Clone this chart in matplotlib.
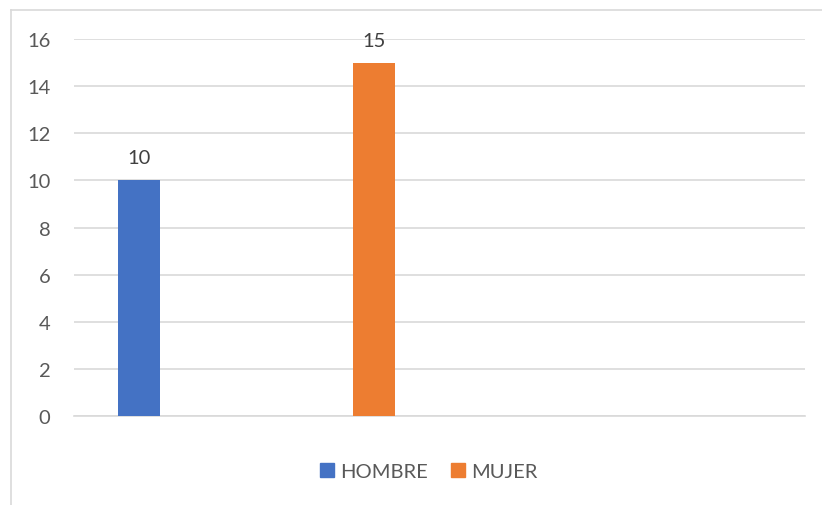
import matplotlib.pyplot as plt
from matplotlib.lines import Line2D

# Data
series = ['HOMBRE', 'MUJER']
values = [10, 15]
colors = ['#4472C4', '#ED7D31']
yticks = [0, 2, 4, 6, 8, 10, 12, 14, 16]

plt.rcParams['font.family'] = ['Lato', 'DejaVu Sans']
text_color = '#595959'
grid_color = '#D9D9D9'

fig = plt.figure(figsize=(8.22, 5.06), dpi=100)
ax = fig.add_axes([74 / 822, 1 - 417 / 506, (805 - 74) / 822, (417 - 40) / 506])

x = list(range(len(series)))
bars = ax.bar(x, values, width=0.178, color=colors, zorder=3)

for xi, v in zip(x, values):
    ax.annotate(str(v), (xi, v), xytext=(0, 10), textcoords='offset points',
                ha='center', va='bottom', fontsize=14.5, color='#404040')

ax.set_xlim(-0.275, 2.83)
ax.set_ylim(0, 16)
ax.set_yticks(yticks)
ax.set_xticks([])
ax.yaxis.grid(True, color=grid_color, linewidth=1.2, zorder=0)
for s in ['top', 'right', 'left']:
    ax.spines[s].set_visible(False)
ax.spines['bottom'].set_color(grid_color)
ax.spines['bottom'].set_linewidth(1.2)
ax.tick_params(axis='y', length=0, pad=17, labelsize=14.5, labelcolor=text_color)

# legend
handles = [Line2D([], [], marker='s', linestyle='', markersize=10.5, color=c) for c in colors]
fig.legend(handles, series, loc='center', bbox_to_anchor=(427 / 822, 1 - 472 / 506),
           ncol=2, frameon=False, fontsize=14.5, labelcolor=text_color,
           handletextpad=0.15, columnspacing=1.0, handlelength=1.0)

# chart border
fig.add_artist(Line2D([10.5 / 822, 10.5 / 822], [0, 1 - 10.5 / 506], transform=fig.transFigure,
                      color=grid_color, linewidth=1.2))
fig.add_artist(Line2D([10.5 / 822, 1], [1 - 10.5 / 506, 1 - 10.5 / 506], transform=fig.transFigure,
                      color=grid_color, linewidth=1.2))

fig.savefig('out.png', dpi=100)
